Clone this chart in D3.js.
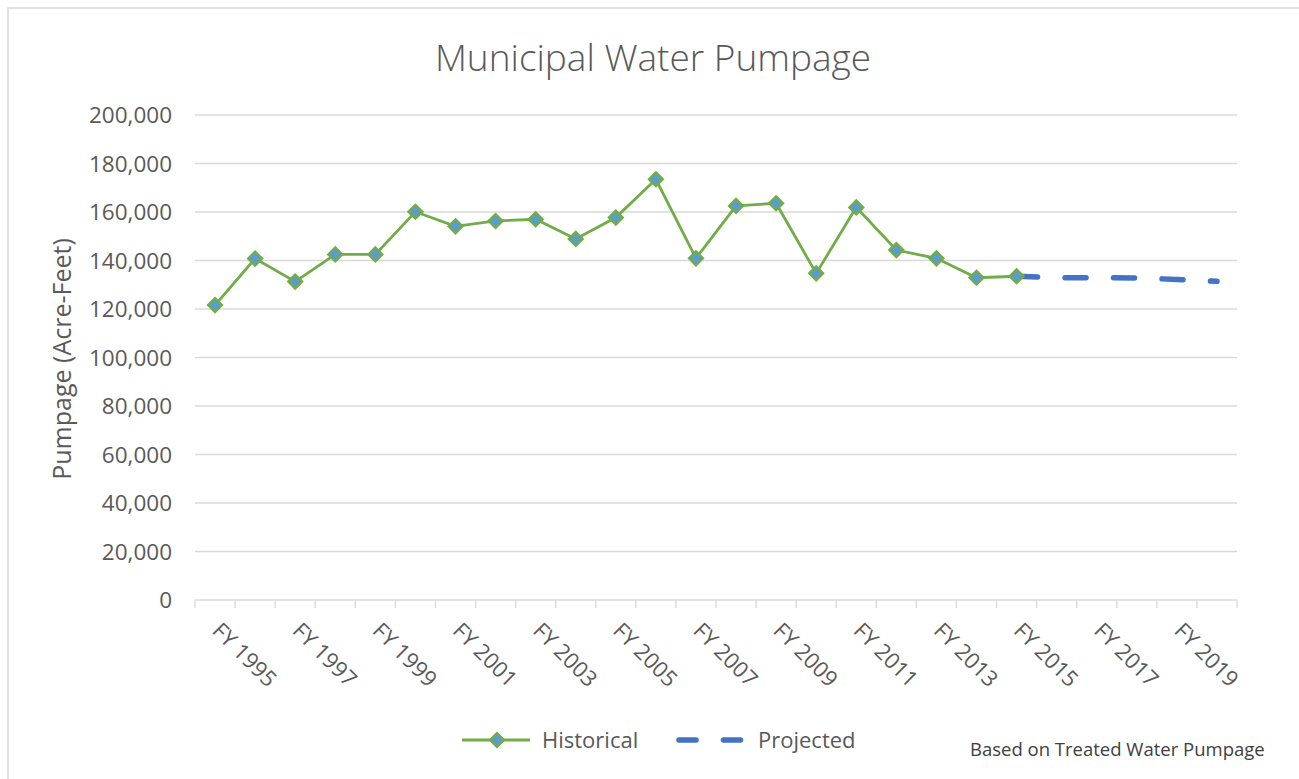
<!DOCTYPE html>
<html lang="en">

<head>
    <meta charset="UTF-8">
    <title>Municipal Water Pumpage</title>
    <script src="https://cdnjs.cloudflare.com/ajax/libs/d3/7.9.0/d3.min.js"></script>
    <style>
        body { margin: 0; background: #fff; }
        text { font-family: "Open Sans", sans-serif; fill: #595959; }
    </style>
</head>

<body>
    <svg id="chart" width="1299" height="779"></svg>

    <script>
        // categories FY 1995 .. FY 2020
        var years = [];
        for (var yr = 1995; yr <= 2020; yr++) years.push("FY " + yr);

        var histYears = years.slice(0, 21); // FY 1995 - FY 2015
        var histValues = [121600, 140800, 131300, 142500, 142500, 160100, 154100, 156300, 157000, 148900,
            157700, 173500, 140900, 162500, 163600, 134700, 161900, 144300, 140900, 132900, 133500];

        var projYears = ["FY 2015", "FY 2016", "FY 2017", "FY 2018", "FY 2019", "FY 2020"];
        var projValues = [133500, 132900, 132900, 132800, 132200, 131400];

        var yTicks = [0, 20000, 40000, 60000, 80000, 100000, 120000, 140000, 160000, 180000, 200000];
        var xLabels = years.filter(function (d, i) { return i % 2 === 0 && i < 25; });

        var svg = d3.select("#chart");

        // chart frame
        svg.append("rect")
            .attr("x", 8).attr("y", 8)
            .attr("width", 1320).attr("height", 800)
            .attr("fill", "none")
            .attr("stroke", "#d9d9d9")
            .attr("stroke-width", 1.5);

        var plotLeft = 195, plotRight = 1237, plotTop = 115, plotBottom = 600;

        var x = d3.scaleBand().domain(years).range([plotLeft, plotRight]).padding(0);
        var y = d3.scaleLinear().domain([0, 200000]).range([plotBottom, plotTop]);
        var cx = function (d) { return x(d) + x.bandwidth() / 2; };

        svg.append("text")
            .attr("x", 653).attr("y", 71)
            .attr("text-anchor", "middle")
            .attr("font-size", 37)
            .attr("font-weight", 300)
            .text("Municipal Water Pumpage");

        // gridlines
        svg.append("g")
            .selectAll("line")
            .data(yTicks.slice(1))
            .enter().append("line")
            .attr("x1", plotLeft).attr("x2", plotRight)
            .attr("y1", function (d) { return y(d); })
            .attr("y2", function (d) { return y(d); })
            .attr("stroke", "#d9d9d9")
            .attr("stroke-width", 1.3);

        // y tick labels
        svg.append("g")
            .selectAll("text")
            .data(yTicks)
            .enter().append("text")
            .attr("x", 172)
            .attr("y", function (d) { return y(d); })
            .attr("dy", "0.36em")
            .attr("text-anchor", "end")
            .attr("font-size", 22.5)
            .text(function (d) { return d3.format(",")(d); });

        svg.append("text")
            .attr("transform", "translate(71,359) rotate(-90)")
            .attr("text-anchor", "middle")
            .attr("font-size", 25)
            .text("Pumpage (Acre-Feet)");

        // x axis with ticks between categories
        var xAxis = svg.append("g");
        xAxis.append("line")
            .attr("x1", plotLeft).attr("x2", plotRight)
            .attr("y1", plotBottom).attr("y2", plotBottom)
            .attr("stroke", "#d9d9d9")
            .attr("stroke-width", 1.3);
        xAxis.selectAll(".tick")
            .data(years.concat(["end"]))
            .enter().append("line")
            .attr("x1", function (d, i) { return i < years.length ? x(d) : plotRight; })
            .attr("x2", function (d, i) { return i < years.length ? x(d) : plotRight; })
            .attr("y1", plotBottom).attr("y2", plotBottom + 8)
            .attr("stroke", "#d9d9d9")
            .attr("stroke-width", 1.3);

        xAxis.selectAll("text")
            .data(xLabels)
            .enter().append("text")
            .attr("transform", function (d) { return "translate(" + (cx(d) - 4) + "," + 632 + ") rotate(45)"; })
            .attr("font-size", 22)
            .text(function (d) { return d; });

        // projected line
        var line = d3.line()
            .x(function (d) { return cx(d[0]); })
            .y(function (d) { return y(d[1]); });

        svg.append("path")
            .datum(d3.zip(projYears, projValues))
            .attr("d", line)
            .attr("fill", "none")
            .attr("stroke", "#4472c4")
            .attr("stroke-width", 5.5)
            .attr("stroke-linecap", "round")
            .attr("stroke-dasharray", "21,27.5");

        // historical line + markers
        var hist = d3.zip(histYears, histValues);
        svg.append("path")
            .datum(hist)
            .attr("d", line)
            .attr("fill", "none")
            .attr("stroke", "#70ad47")
            .attr("stroke-width", 2.8);

        var diamond = d3.symbol().type(d3.symbolSquare).size(95);
        svg.append("g")
            .selectAll("path")
            .data(hist)
            .enter().append("path")
            .attr("d", diamond)
            .attr("transform", function (d) { return "translate(" + cx(d[0]) + "," + y(d[1]) + ") rotate(45)"; })
            .attr("fill", "#5b9bd5")
            .attr("stroke", "#70ad47")
            .attr("stroke-width", 2.4);

        // legend
        var lg = svg.append("g");
        lg.append("line")
            .attr("x1", 462).attr("x2", 530).attr("y1", 740).attr("y2", 740)
            .attr("stroke", "#70ad47").attr("stroke-width", 2.8);
        lg.append("path")
            .attr("d", diamond)
            .attr("transform", "translate(497,740) rotate(45)")
            .attr("fill", "#5b9bd5")
            .attr("stroke", "#70ad47")
            .attr("stroke-width", 2.4);
        lg.append("text")
            .attr("x", 542).attr("y", 748)
            .attr("font-size", 22)
            .text("Historical");

        lg.append("line")
            .attr("x1", 679).attr("x2", 744).attr("y1", 740).attr("y2", 740)
            .attr("stroke", "#4472c4").attr("stroke-width", 5.5)
            .attr("stroke-linecap", "round")
            .attr("stroke-dasharray", "17,27.5");
        lg.append("text")
            .attr("x", 758).attr("y", 748)
            .attr("font-size", 22)
            .text("Projected");

        svg.append("text")
            .attr("x", 970).attr("y", 756)
            .attr("font-size", 18.5)
            .style("fill", "#404040")
            .text("Based on Treated Water Pumpage");
    </script>
</body>

</html>
